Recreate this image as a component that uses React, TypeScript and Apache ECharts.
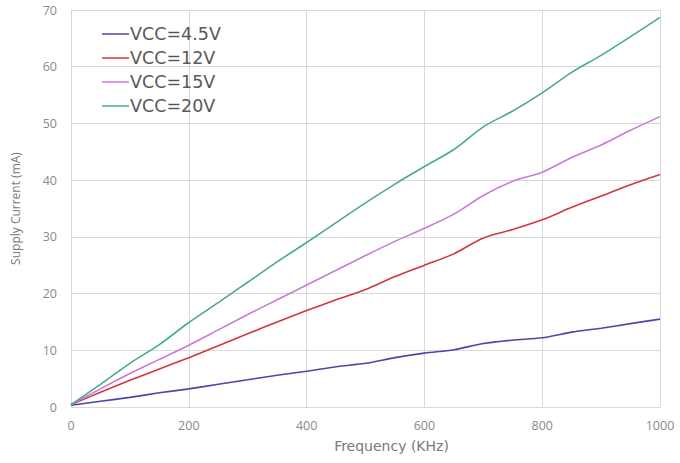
import React, { useEffect, useRef } from "react";
import * as echarts from "echarts";

const freqs = [0, 50, 100, 150, 200, 250, 300, 350, 400, 450, 500, 550, 600, 650, 700, 750, 800, 850, 900, 950, 1000];
const vcc45 = [0.3, 1.0, 1.7, 2.5, 3.2, 4.0, 4.8, 5.6, 6.3, 7.1, 7.7, 8.7, 9.5, 10.1, 11.2, 11.8, 12.2, 13.2, 13.9, 14.7, 15.5];
const vcc12 = [0.4, 2.6, 4.7, 6.7, 8.7, 10.8, 12.9, 15.0, 17.0, 18.9, 20.7, 23.0, 25.0, 27.0, 29.8, 31.3, 33.0, 35.2, 37.2, 39.2, 41.0];
const vcc15 = [0.4, 3.2, 5.9, 8.4, 10.9, 13.6, 16.3, 18.9, 21.5, 24.1, 26.7, 29.2, 31.5, 34.0, 37.3, 39.8, 41.4, 44.0, 46.2, 48.8, 51.2];
const vcc20 = [0.4, 4.0, 7.7, 11.0, 14.9, 18.4, 22.0, 25.6, 29.0, 32.5, 36.0, 39.3, 42.4, 45.4, 49.4, 52.2, 55.4, 59.0, 62.0, 65.3, 68.7];
const seriesNames = ["VCC=4.5V", "VCC=12V", "VCC=15V", "VCC=20V"];
const seriesColors = ["#4A47AA", "#D0383C", "#C97BDA", "#48AD86"];
const yTicks = { min: 0, max: 70, interval: 10 };
const xTicks = { min: 0, max: 1000, interval: 200 };

export default function App() {
  const ref = useRef<HTMLDivElement>(null);
  useEffect(() => {
    if (!ref.current) return;
    const chart = echarts.init(ref.current, undefined, { renderer: "svg" });
    const all = [vcc45, vcc12, vcc15, vcc20];
    chart.setOption({
      animation: false,
      backgroundColor: "#ffffff",
      textStyle: { fontFamily: "Open Sans" },
      grid: { left: 71, right: 20, top: 10, bottom: 56 },
      legend: {
        orient: "vertical",
        left: 97,
        top: 20,
        icon: "rect",
        itemWidth: 27,
        itemHeight: 1.5,
        itemGap: 6,
        textStyle: { fontSize: 17.5, lineHeight: 18, color: "#595959", fontFamily: "DejaVu Sans", padding: [0, 0, 0, -4] },
        data: seriesNames,
      },
      xAxis: {
        type: "value",
        min: xTicks.min,
        max: xTicks.max,
        interval: xTicks.interval,
        name: "Frequency (KHz)",
        nameLocation: "middle",
        nameGap: 32,
        nameTextStyle: { fontSize: 14, color: "#7a7a7a", fontFamily: "DejaVu Sans", padding: [0, 0, 0, 52] },
        axisLine: { show: true, lineStyle: { color: "#d9d9d9" } },
        axisTick: { show: false },
        axisLabel: { fontSize: 12.5, color: "#8a8a8a", margin: 12, formatter: (v: number) => String(v) },
        splitLine: { show: true, lineStyle: { color: "#d9d9d9", width: 1 } },
      },
      yAxis: {
        type: "value",
        min: yTicks.min,
        max: yTicks.max,
        interval: yTicks.interval,
        name: "Supply Current (mA)",
        nameLocation: "middle",
        nameGap: 50,
        nameTextStyle: { fontSize: 12, color: "#7a7a7a" },
        axisLine: { show: true, lineStyle: { color: "#d9d9d9" } },
        axisTick: { show: false },
        axisLabel: { fontSize: 12.5, color: "#8a8a8a", margin: 14 },
        splitLine: { show: true, lineStyle: { color: "#d9d9d9", width: 1 } },
      },
      series: all.map((vals, i) => ({
        name: seriesNames[i],
        type: "line",
        smooth: 0.3,
        symbol: "none",
        color: seriesColors[i],
        lineStyle: { width: 1.6, color: seriesColors[i] },
        data: freqs.map((f, j) => [f, vals[j]]),
      })),
    });
    return () => chart.dispose();
  }, []);
  return <div ref={ref} style={{ width: 680, height: 463, position: "absolute", left: 0, top: 0 }} />;
}
